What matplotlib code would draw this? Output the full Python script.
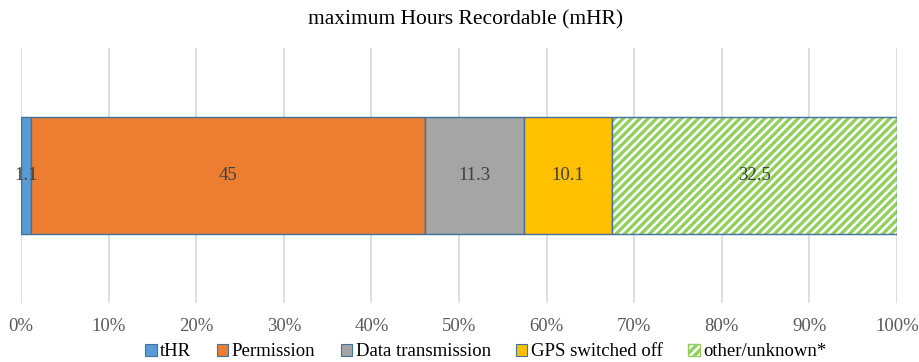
import matplotlib.pyplot as plt
from matplotlib.patches import Patch

plt.rcParams['font.family'] = ['Liberation Serif', 'DejaVu Serif']
plt.rcParams['hatch.linewidth'] = 2.4

categories = ['tHR', 'Permission', 'Data transmission', 'GPS switched off', 'other/unknown*']
values = [1.1, 45, 11.3, 10.1, 32.5]
colors = ['#5B9BD5', '#ED7D31', '#A5A5A5', '#FFC000', 'white']
hatch_color = '#92CF5C'
edge = '#41719C'

fig = plt.figure(figsize=(9.19, 3.62), dpi=100)
ax = fig.add_axes([21 / 919, 1 - 303 / 362, 876 / 919, 255 / 362])

left = 0
handles = []
for name, v, c in zip(categories, values, colors):
    if name == 'other/unknown*':
        ax.barh(0, v, left=left, height=0.455, color='white', edgecolor=hatch_color,
                hatch='////', linewidth=0)
        ax.barh(0, v, left=left, height=0.455, fill=False, edgecolor=edge, linewidth=1)
        handles.append(Patch(facecolor='white', edgecolor=hatch_color, hatch='////', label=name))
    else:
        ax.barh(0, v, left=left, height=0.455, color=c, edgecolor=edge, linewidth=1)
        handles.append(Patch(facecolor=c, edgecolor=edge, linewidth=0.8, label=name))
    ax.text(left + v / 2, 0, f'{v:g}', ha='center', va='center', fontsize=13.5, color='#404040')
    left += v

ax.set_xlim(0, 100)
ax.set_ylim(-0.5, 0.5)
ax.set_xticks(range(0, 101, 10))
ax.set_xticklabels([f'{t}%' for t in range(0, 101, 10)], fontsize=13.5, color='#595959')
ax.set_yticks([])
ax.tick_params(axis='x', length=0, pad=11)
ax.grid(axis='x', color='#D9D9D9', linewidth=1.2)
ax.set_axisbelow(True)
for s in ax.spines.values():
    s.set_visible(False)

fig.text(466 / 919, 1 - 20 / 362, 'maximum Hours Recordable (mHR)', ha='center', va='center',
         fontsize=15.5, color='#000000')

fig.legend(handles=handles, loc='center', bbox_to_anchor=(486 / 919, 1 - 352 / 362), ncol=5,
           frameon=False, fontsize=13.5, handlelength=0.6, handleheight=0.6,
           handletextpad=0.2, columnspacing=1.35, labelcolor='#000000')

fig.savefig('out.png', dpi=100)
